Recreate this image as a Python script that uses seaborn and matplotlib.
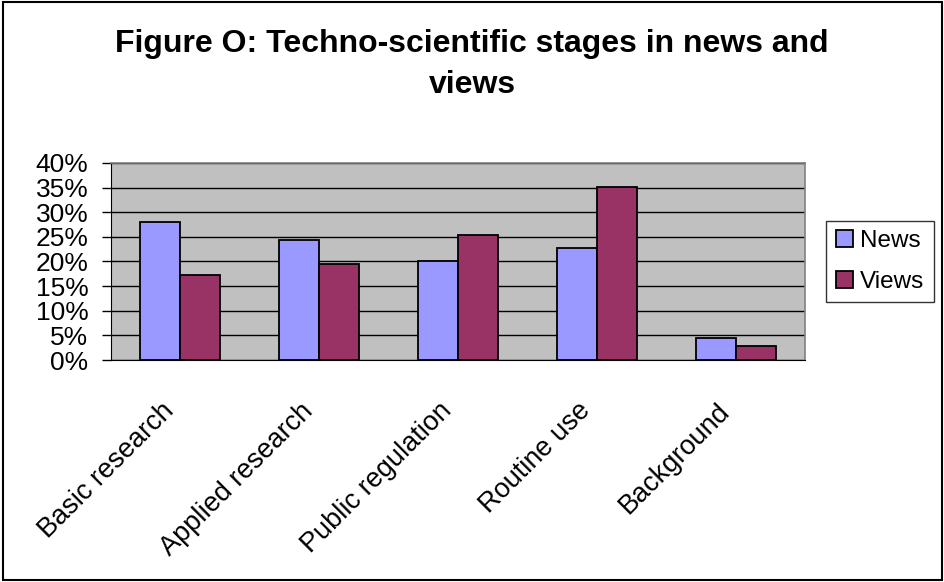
import numpy as np
import pandas as pd
import matplotlib
matplotlib.use("Agg")
import matplotlib.pyplot as plt
import matplotlib.transforms as mtransforms
from matplotlib.patches import Rectangle
import seaborn as sns

# data
stages = ["Basic research", "Applied research", "Public regulation", "Routine use", "Background"]
news = [28.0, 24.4, 20.1, 22.7, 4.5]
views = [17.2, 19.5, 25.3, 35.1, 2.9]
series = ["News", "Views"]
colors = ["#9999FF", "#993366"]
y_ticks = [0, 5, 10, 15, 20, 25, 30, 35, 40]

df = pd.DataFrame({
    "stage": stages * 2,
    "share": news + views,
    "series": ["News"] * len(stages) + ["Views"] * len(stages),
})

sns.set_style("white")
plt.rcParams["font.family"] = ["Liberation Sans", "DejaVu Sans"]
plt.rcParams["text.color"] = "black"
plt.rcParams["xtick.color"] = "black"
plt.rcParams["ytick.color"] = "black"

fig = plt.figure(figsize=(9.44, 5.82), dpi=100)
ax = fig.add_axes([0.1173, 0.3814, 0.7357, 0.3386])

sns.barplot(data=df, x="stage", y="share", hue="series", order=stages,
            hue_order=series, palette=colors, width=0.58, edgecolor="black",
            linewidth=1.3, saturation=1, ax=ax, zorder=3)

ax.set_facecolor("#C0C0C0")
ax.set_xlim(-0.5, len(stages) - 0.5)
ax.set_ylim(0, 40)
ax.set_yticks(y_ticks)
ax.set_yticklabels([f"{t}%" for t in y_ticks], fontsize=19)
ax.yaxis.grid(True, color="black", linewidth=1)
ax.set_axisbelow(True)
ax.set_xlabel("")
ax.set_ylabel("")

for side in ["top", "right"]:
    ax.spines[side].set_color("#808080")
    ax.spines[side].set_linewidth(1.2)
ax.spines["left"].set_color("black")
ax.spines["bottom"].set_color("black")

# category labels rotated, ticks at category boundaries
ax.set_xticks(range(len(stages)))
ax.set_xticklabels(stages, rotation=45, ha="right", va="center",
                   rotation_mode="anchor", fontsize=19.5)
ax.tick_params(axis="x", which="major", length=0, pad=0)
ax.set_xticks(np.arange(-0.5, len(stages), 1), minor=True)
ax.tick_params(axis="x", which="minor", length=6, width=1, color="black", direction="out")
ax.tick_params(axis="y", length=6.5, width=1, color="black", direction="out", pad=9.5, left=True)
shift = mtransforms.ScaledTranslation(-10 / 100, -47 / 100, fig.dpi_scale_trans)
for lbl in ax.get_xticklabels():
    lbl.set_transform(lbl.get_transform() + shift)

leg = ax.legend(loc="center left", bbox_to_anchor=(1.03, 0.5), fontsize=17.5,
                frameon=True, fancybox=False, edgecolor="black", borderaxespad=0,
                handlelength=0.7, handleheight=0.7, handletextpad=0.3,
                labelspacing=0.75, borderpad=0.4)
leg.get_frame().set_linewidth(1)

fig.text(0.5, 1 - 52 / 582, "Figure O: Techno-scientific stages in news and", ha="center",
         va="baseline", fontsize=23, fontweight="bold")
fig.text(0.5, 1 - 93 / 582, "views", ha="center", va="baseline", fontsize=23, fontweight="bold")

fig.patches.append(Rectangle((0.003, 0.003), 0.995, 0.994, transform=fig.transFigure,
                             fill=False, edgecolor="black", linewidth=1.5))

fig.savefig("out.png", dpi=100)
